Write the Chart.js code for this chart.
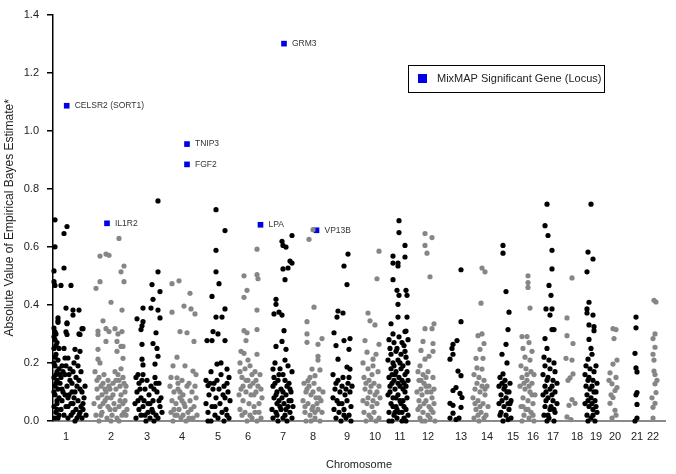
<!DOCTYPE html>
<html>
<head>
<meta charset="utf-8">
<script src="https://cdn.jsdelivr.net/npm/chart.js@4"></script>
<style>
  body { margin: 0; background: #fff; }
</style>
</head>
<body>
<canvas id="chart" width="676" height="474"></canvas>
<script>
// cumulative genome position (arbitrary units) and |EB estimate|
const chromLabels = ['1','2','3','4','5','6','7','8','9','10','11','12','13','14','15','16','17','18','19','20','21','22'];
const chromCenters = [13,58,94,129,165,195,230,260,294,322,347,375,408,434,460,480,500,524,543,562,584,600];

const chr1 = [[2,.693],[14,.67],[11,.646],[2,.60],[11,.527],[1,.517],[1,.48],[2,.467],[8,.467],[18,.467],[13,.389],[20,.382],[26,.382],[20,.365],[14,.335],[29,.318],[26,.30],[14,.298],[5,.355],[5,.345],[2,.307],[5,.34],[14,.338],[13,.307],[30,.318],[27,.298],[22,.247],[12,.217],[15,.217],
  [1,.32],[3,.30],[2,.28],[4,.27],[1,.25],[3,.23],[5,.21],[2,.19],[4,.17],[1,.15],[3,.13],[5,.11],[2,.09],[4,.07],[1,.05],[3,.03],[2,.01],[6,.25],[7,.16],[6,.08],
  [9,.19],[12,.16],[17,.18],[21,.2],[25,.19],[28,.17],[23,.15],[19,.13],[14,.12],[10,.1],[16,.09],[22,.1],[27,.11],[31,.08],[25,.07],[18,.06],[13,.05],[8,.04],[20,.03],[26,.02],[30,.04],[15,.01],[7,.13],[4,.06],[29,.01],[11,.02],[23,.04],[17,.14],[9,.07],[32,.12],[24,.22],[27,.24],[20,.17],[11,.25],[15,.08],[28,.05],[22,.0],
  [1,.29],[3,.26],[2,.22],[1,.2],[4,.14],[2,.12],[1,.1],[4,.04],[6,.02],[8,.15],[10,.17],[13,.19],[16,.16],[19,.1],[21,.08],[24,.12],[26,.14],[29,.1],[30,.06],[27,.03],[24,.01],[18,.02],[12,.09],[9,.11],[15,.05],[20,.06],[33,.02],[6,.18],[3,.16],[5,.01]];
const chr2 = [[43,.457],[47,.48],[47,.568],[53,.575],[56,.571],[66,.629],[71,.534],[68,.514],[71,.48],[58,.409],[69,.382],[50,.345],[53,.318],[56,.308],[45,.31],[45,.298],[62,.318],[65,.30],[69,.308],[53,.274],[64,.274],[68,.257],[70,.257],[45,.247],[64,.24],[45,.213],[47,.2],[70,.216],
  [42,.17],[46,.15],[50,.13],[55,.14],[60,.13],[65,.16],[70,.15],[73,.12],[44,.11],[49,.09],[53,.1],[58,.08],[63,.11],[68,.09],[72,.07],[41,.06],[47,.05],[52,.07],[57,.04],[61,.06],[66,.05],[71,.03],[43,.02],[49,.03],[54,.01],[59,.02],[64,.01],[69,.02],[74,.04],[51,.16],[62,.17],[67,.12],[57,.11],[45,.08],[60,.09],[72,.1],[48,.02],[66,.0],[55,.05],[70,.06],
  [44,.14],[48,.12],[56,.12],[66,.14],[68,.18],[71,.13],[50,.06],[54,.08],[62,.04],[67,.07],[73,.02],[46,.0],[58,.0],[63,.14],[52,.11]];
const chr3 = [[105,.758],[105,.514],[99,.47],[107,.446],[100,.419],[90,.389],[98,.389],[105,.382],[84,.352],[107,.355],[90,.342],[89,.328],[88,.315],[103,.304],[89,.264],[100,.267],[104,.25],[105,.223],[89,.213],[90,.193],[102,.196],
  [83,.15],[86,.13],[90,.16],[94,.14],[98,.12],[102,.15],[106,.13],[84,.1],[88,.08],[92,.11],[96,.09],[100,.07],[104,.1],[108,.08],[82,.06],[86,.04],[90,.05],[95,.03],[99,.04],[103,.02],[107,.05],[83,.01],[88,.02],[93,.0],[97,.01],[101,.0],[105,.01],[109,.03],[91,.07],[95,.06],
  [85,.16],[87,.11],[89,.14],[101,.11],[103,.13],[97,.06],[85,.07],[106,.07],[92,.02],[100,.03]];
const chr4 = [[119,.473],[126,.483],[119,.375],[131,.396],[138,.386],[142,.369],[137,.44],[127,.308],[134,.304],[141,.274],[124,.22],[120,.19],[132,.19],[140,.172],[124,.149],[118,.15],[129,.14],[136,.13],[143,.16],
  [117,.12],[121,.1],[125,.11],[130,.09],[134,.12],[139,.1],[143,.08],[119,.07],[123,.06],[127,.08],[132,.05],[137,.07],[141,.05],[118,.03],[122,.02],[126,.04],[130,.02],[135,.03],[140,.01],[144,.02],[120,.0],[128,.01],[133,.0],[138,.04],[131,.06],[125,.13],
  [127,.1],[129,.07],[124,.02],[136,.01],[142,.12],[121,.04]];
const chr5 = [[163,.728],[172,.656],[163,.588],[163,.514],[166,.473],[159,.429],[172,.386],[163,.358],[169,.358],[160,.308],[165,.30],[154,.277],[159,.277],[172,.277],[164,.196],[174,.179],[155,.122],
  [158,.17],[168,.16],[176,.15],[153,.14],[161,.13],[171,.12],[166,.11],[175,.1],[156,.09],[163,.08],[170,.09],[177,.07],[153,.06],[159,.05],[167,.06],[173,.04],[155,.03],[162,.02],[169,.03],[176,.01],[158,.0],[165,.01],[171,.0],[160,.11],[174,.13],[168,.2],
  [157,.13],[164,.14],[172,.08],[162,.05],[155,.0],[174,.02]];
const chr6 = [[191,.50],[204,.592],[204,.504],[205,.49],[194,.45],[191,.426],[204,.382],[191,.311],[194,.304],[193,.277],[204,.315],[191,.233],[204,.23],
  [187,.2],[192,.18],[197,.19],[202,.17],[207,.16],[189,.15],[195,.14],[200,.13],[205,.12],[188,.11],[193,.1],[198,.09],[203,.1],[209,.08],[190,.07],[196,.06],[201,.05],[206,.06],[187,.04],[192,.03],[197,.02],[202,.03],[208,.01],[194,.0],[199,.01],[204,.0],[195,.21],[199,.16],[190,.12],
  [187,.17],[188,.24],[193,.14],[197,.12],[201,.09],[206,.03],[189,.02],[203,.14],[208,.11],[186,.09]];
const chr7 = [[229,.619],[239,.639],[230,.605],[233,.599],[237,.551],[230,.524],[235,.527],[239,.544],[232,.487],[223,.419],[223,.402],[226,.375],[221,.369],[229,.365],[231,.311],[229,.274],[223,.257],[233,.247],[232,.21],[220,.179],
  [222,.2],[227,.18],[235,.19],[239,.17],[221,.15],[225,.14],[230,.16],[236,.13],[220,.12],[224,.1],[228,.11],[233,.09],[238,.1],[221,.08],[226,.07],[231,.06],[236,.07],[240,.05],[219,.04],[223,.03],[228,.04],[232,.02],[237,.03],[220,.01],[225,.0],[230,.01],[234,.0],[239,.01],[227,.05],[234,.12],[224,.06],[229,.08],
  [222,.13],[226,.16],[232,.14],[237,.11],[223,.09],[230,.1],[235,.05],[224,.02],[233,.04],[238,.07]];
const chr8 = [[260,.659],[256,.626],[261,.392],[254,.342],[254,.30],[254,.271],[269,.284],[265,.264],[265,.223],[265,.21],[259,.179],[267,.176],[255,.139],[262,.156],
  [251,.13],[256,.12],[261,.13],[266,.11],[270,.1],[253,.1],[258,.09],[263,.08],[268,.07],[250,.07],[255,.06],[260,.05],[265,.04],[269,.03],[252,.03],[257,.02],[262,.01],[267,.0],[253,.0],[259,.04],[264,.06],[257,.15],
  [254,.11],[260,.1],[266,.08],[252,.05],[262,.03],[258,.0]];
const chr9 = [[295,.575],[291,.534],[294,.47],[285,.379],[290,.372],[284,.358],[281,.304],[291,.277],[297,.284],[283,.26],[296,.247],[285,.213],[294,.186],[297,.179],
  [280,.16],[285,.14],[290,.15],[295,.13],[299,.12],[282,.11],[287,.1],[292,.09],[297,.1],[280,.08],[284,.07],[289,.06],[294,.07],[298,.05],[281,.04],[286,.03],[291,.04],[296,.02],[283,.01],[288,.0],[293,.01],[298,.0],[289,.12],
  [283,.13],[293,.11],[296,.15],[286,.06],[291,.02]];
const chr10 = [[326,.585],[324,.49],[315,.372],[317,.345],[322,.331],[312,.277],[326,.264],[314,.237],[323,.23],[320,.213],
  [310,.2],[315,.18],[320,.19],[325,.17],[311,.15],[316,.14],[321,.13],[326,.12],[312,.11],[317,.1],[322,.09],[327,.08],[310,.07],[314,.06],[319,.05],[324,.06],[311,.03],[316,.02],[321,.03],[326,.01],[313,.0],[318,.01],[323,.0],[319,.16],
  [313,.13],[318,.12],[324,.1],[315,.08],[320,.07]];
const chr11 = [[346,.69],[346,.649],[352,.605],[340,.568],[352,.565],[340,.544],[345,.544],[345,.534],[340,.487],[344,.45],[353,.45],[354,.433],[346,.433],[345,.402],[345,.358],[354,.358],[338,.335],[352,.308],[340,.30],
  [336,.28],[341,.27],[346,.29],[351,.26],[355,.28],[337,.25],[343,.24],[348,.23],[353,.22],[335,.21],[340,.2],[345,.21],[350,.19],[355,.2],[338,.18],[343,.17],[348,.18],[352,.16],[336,.15],[341,.14],[346,.15],[351,.13],[355,.14],[337,.12],[342,.11],[347,.12],[352,.1],[335,.09],[340,.08],[345,.09],[350,.07],[354,.08],[338,.06],[343,.05],[348,.06],[353,.04],[336,.03],[341,.02],[346,.03],[351,.01],[355,.02],[339,.0],[344,.01],[349,.0],[342,.16],[350,.11],[344,.25],[339,.13],[353,.31],
  [349,.27],[338,.23],[352,.24],[341,.19],[347,.2],[354,.17],[339,.16],[345,.13],[349,.14],[353,.12],[337,.1],[343,.08],[347,.07],[351,.05],[340,.05],[344,.04],[349,.03],[353,.0],[336,.0],[342,.03]];
const chr12 = [[372,.646],[379,.632],[372,.605],[374,.578],[377,.497],[381,.335],[372,.318],[379,.318],[370,.274],[380,.267],[368,.243],[380,.24],[376,.223],[372,.213],[367,.19],
  [365,.17],[370,.16],[375,.17],[380,.15],[366,.14],[371,.13],[376,.12],[381,.11],[364,.1],[369,.09],[374,.1],[379,.08],[366,.07],[371,.06],[376,.05],[381,.06],[365,.04],[370,.03],[375,.02],[380,.03],[367,.01],[372,.0],[377,.01],[382,.0],[373,.15],[368,.11],
  [368,.14],[373,.12],[378,.1],[367,.05],[373,.07],[378,.04],[369,.0]];
const chr13 = [[408,.521],[408,.342],[404,.277],[400,.264],[399,.25],[397,.213],[400,.23],[405,.172],[408,.156],[403,.115],[400,.105],[407,.095],[409,.081],[397,.061],[400,.054],[408,.047],[400,.027],[397,.01],[403,.005],[406,.01]];
const chr14 = [[429,.527],[432,.514],[428,.406],[429,.30],[425,.294],[431,.267],[427,.247],[430,.216],[423,.216],[424,.183],[429,.179],
  [421,.16],[426,.15],[431,.14],[434,.12],[422,.11],[427,.1],[432,.09],[420,.08],[425,.07],[430,.06],[435,.05],[423,.04],[428,.03],[433,.02],[421,.01],[426,.0],[431,.01],[424,.13],[429,.12],
  [422,.06],[427,.05],[432,.11],[425,.02]];
const chr15 = [[450,.605],[450,.578],[453,.446],[456,.375],[455,.315],[453,.264],[449,.23],[454,.2],[450,.162],
  [447,.15],[452,.14],[457,.13],[446,.12],[451,.11],[456,.1],[448,.09],[453,.08],[458,.07],[446,.06],[451,.05],[456,.04],[448,.03],[453,.02],[458,.01],[450,.0],[455,.005],[452,.12],[457,.06],
  [449,.13],[454,.1],[449,.07],[455,.06],[447,.02]];
const chr16 = [[475,.50],[475,.477],[475,.46],[477,.389],[469,.291],[474,.291],[476,.27],[470,.25],[479,.24],[472,.22],[477,.21],
  [468,.19],[473,.18],[478,.17],[481,.16],[469,.15],[474,.14],[479,.13],[467,.12],[472,.11],[477,.1],[482,.09],[470,.08],[475,.07],[480,.06],[468,.05],[473,.04],[478,.03],[471,.02],[476,.01],[481,.0],[469,.0],[474,.16],[479,.09],
  [471,.13],[476,.12],[470,.05],[475,.04],[480,.02]];
const chr17 = [[494,.747],[492,.673],[495,.639],[499,.588],[499,.524],[496,.467],[498,.433],[493,.386],[499,.386],[497,.365],[499,.315],[501,.315],[492,.284],[494,.25],
  [491,.22],[496,.21],[501,.2],[492,.19],[497,.18],[502,.17],[490,.16],[495,.15],[500,.14],[504,.13],[492,.12],[497,.11],[502,.1],[490,.09],[495,.08],[500,.07],[504,.06],[492,.05],[497,.04],[502,.03],[491,.02],[496,.01],[501,.0],[494,.0],[499,.12],[493,.07],
  [494,.14],[499,.09],[493,.1],[498,.05],[501,.04],[495,.02]];
const chr18 = [[519,.493],[514,.355],[514,.294],[520,.267],[513,.216],[519,.21],[520,.162],[517,.149],[515,.14],[519,.074],[522,.061],[516,.054],[514,.014],[518,.005]];
const chr19 = [[538,.747],[535,.582],[540,.558],[534,.514],[536,.409],[534,.386],[534,.372],[540,.365],[536,.331],[541,.325],[541,.311],[536,.281],[538,.25],[535,.213],[539,.23],
  [533,.19],[537,.18],[541,.17],[543,.19],[532,.16],[536,.15],[540,.14],[544,.13],[533,.12],[537,.11],[541,.1],[534,.09],[538,.08],[542,.07],[532,.06],[536,.05],[540,.04],[544,.03],[534,.02],[538,.01],[542,.0],[535,.0],[539,.06],[543,.1],
  [535,.14],[539,.12],[535,.07],[540,.02],[543,.05]];
const chr20 = [[560,.318],[563,.315],[561,.284],[564,.21],[560,.196],[557,.166],[559,.128],[562,.105],[564,.115],[560,.081],[557,.061],[562,.037],[559,.01],[563,.02],[556,.14],[563,.15],[558,.09]];
const chr21 = [[583,.358],[583,.321],[582,.233],[583,.183],[584,.169],[584,.098],[583,.09],[584,.057],[584,.01],[582,.0]];
const chr22 = [[601,.416],[603,.41],[602,.30],[600,.284],[602,.254],[600,.23],[601,.21],[601,.172],[602,.16],[602,.128],[603,.098],[602,.061],[600,.047],[600,.01],[604,.14],[599,.08]];

const chromosomes = [chr1,chr2,chr3,chr4,chr5,chr6,chr7,chr8,chr9,chr10,chr11,chr12,chr13,chr14,chr15,chr16,chr17,chr18,chr19,chr20,chr21,chr22];

// MixMAP significant genes
const geneNames = ['CELSR2 (SORT1)','IL1R2','TNIP3','FGF2','GRM3','LPA','VP13B'];
const genePos = [13.7, 54, 134, 134, 231, 207.5, 263.5];
const geneValues = [1.086, 0.681, 0.954, 0.884, 1.300, 0.676, 0.657];

const FONT = 'Helvetica, "Liberation Sans", Arial, sans-serif';

const chromDatasets = chromosomes.map((pts, i) => ({
  label: 'Chr ' + chromLabels[i],
  data: pts.map(p => ({x: p[0], y: p[1]})),
  backgroundColor: i % 2 === 0 ? '#000000' : '#868686',
  pointRadius: 2.6,
  pointBorderWidth: 0,
  clip: false
}));

const geneDataset = {
  label: 'MixMAP Significant Gene (Locus)',
  data: genePos.map((x, i) => ({x: x, y: geneValues[i]})),
  backgroundColor: '#0000e6',
  pointStyle: 'rect',
  pointRadius: 4,
  pointBorderWidth: 0,
  clip: false
};

const geneLabels = {
  id: 'geneLabels',
  afterDatasetsDraw(chart) {
    const ctx = chart.ctx;
    const meta = chart.getDatasetMeta(chart.data.datasets.length - 1);
    ctx.save();
    ctx.font = '8.5px ' + FONT;
    ctx.fillStyle = '#333';
    ctx.textBaseline = 'middle';
    meta.data.forEach((pt, i) => {
      ctx.fillText(geneNames[i], pt.x + 8, pt.y);
    });
    // legend box
    ctx.strokeStyle = '#000';
    ctx.lineWidth = 1;
    ctx.strokeRect(408.5, 65.5, 196, 27);
    ctx.fillStyle = '#0000e6';
    ctx.fillRect(418, 74, 9, 9);
    ctx.fillStyle = '#222';
    ctx.font = '11px ' + FONT;
    ctx.fillText(geneDataset.label, 437, 79);
    ctx.restore();
  }
};

new Chart(document.getElementById('chart'), {
  type: 'scatter',
  data: { datasets: [...chromDatasets, geneDataset] },
  options: {
    responsive: false,
    animation: false,
    layout: { padding: { top: 7, right: 11, left: 0, bottom: 0 } },
    plugins: {
      legend: { display: false },
      tooltip: { enabled: false }
    },
    scales: {
      x: {
        type: 'linear',
        min: 0,
        max: 612,
        afterFit: s => { s.height = 53; },
        afterBuildTicks: s => { s.ticks = chromCenters.map(v => ({value: v})); },
        grid: { display: false, drawTicks: false },
        border: { display: true, color: '#8a8a8a', width: 2 },
        ticks: {
          autoSkip: false,
          maxRotation: 0,
          padding: 9,
          color: '#222',
          font: { family: FONT, size: 11 },
          callback: (v, i) => chromLabels[i]
        },
        title: {
          display: true,
          text: 'Chromosome',
          color: '#222',
          font: { family: FONT, size: 11 },
          padding: { top: 0, bottom: 2 }
        }
      },
      y: {
        min: 0,
        max: 1.4,
        afterFit: s => { s.width = 53; },
        grid: { drawOnChartArea: false, drawTicks: true, tickLength: 6, color: '#000', lineWidth: 1.5 },
        border: { display: true, color: '#000', width: 1.5 },
        ticks: {
          stepSize: 0.2,
          padding: 8,
          color: '#222',
          font: { family: FONT, size: 11 },
          callback: v => v.toFixed(1)
        },
        title: {
          display: true,
          text: 'Absolute Value of Empirical Bayes Estimate*',
          color: '#222',
          font: { family: FONT, size: 12 },
          padding: { top: 2, bottom: 0 }
        }
      }
    }
  },
  plugins: [geneLabels]
});
</script>
</body>
</html>
